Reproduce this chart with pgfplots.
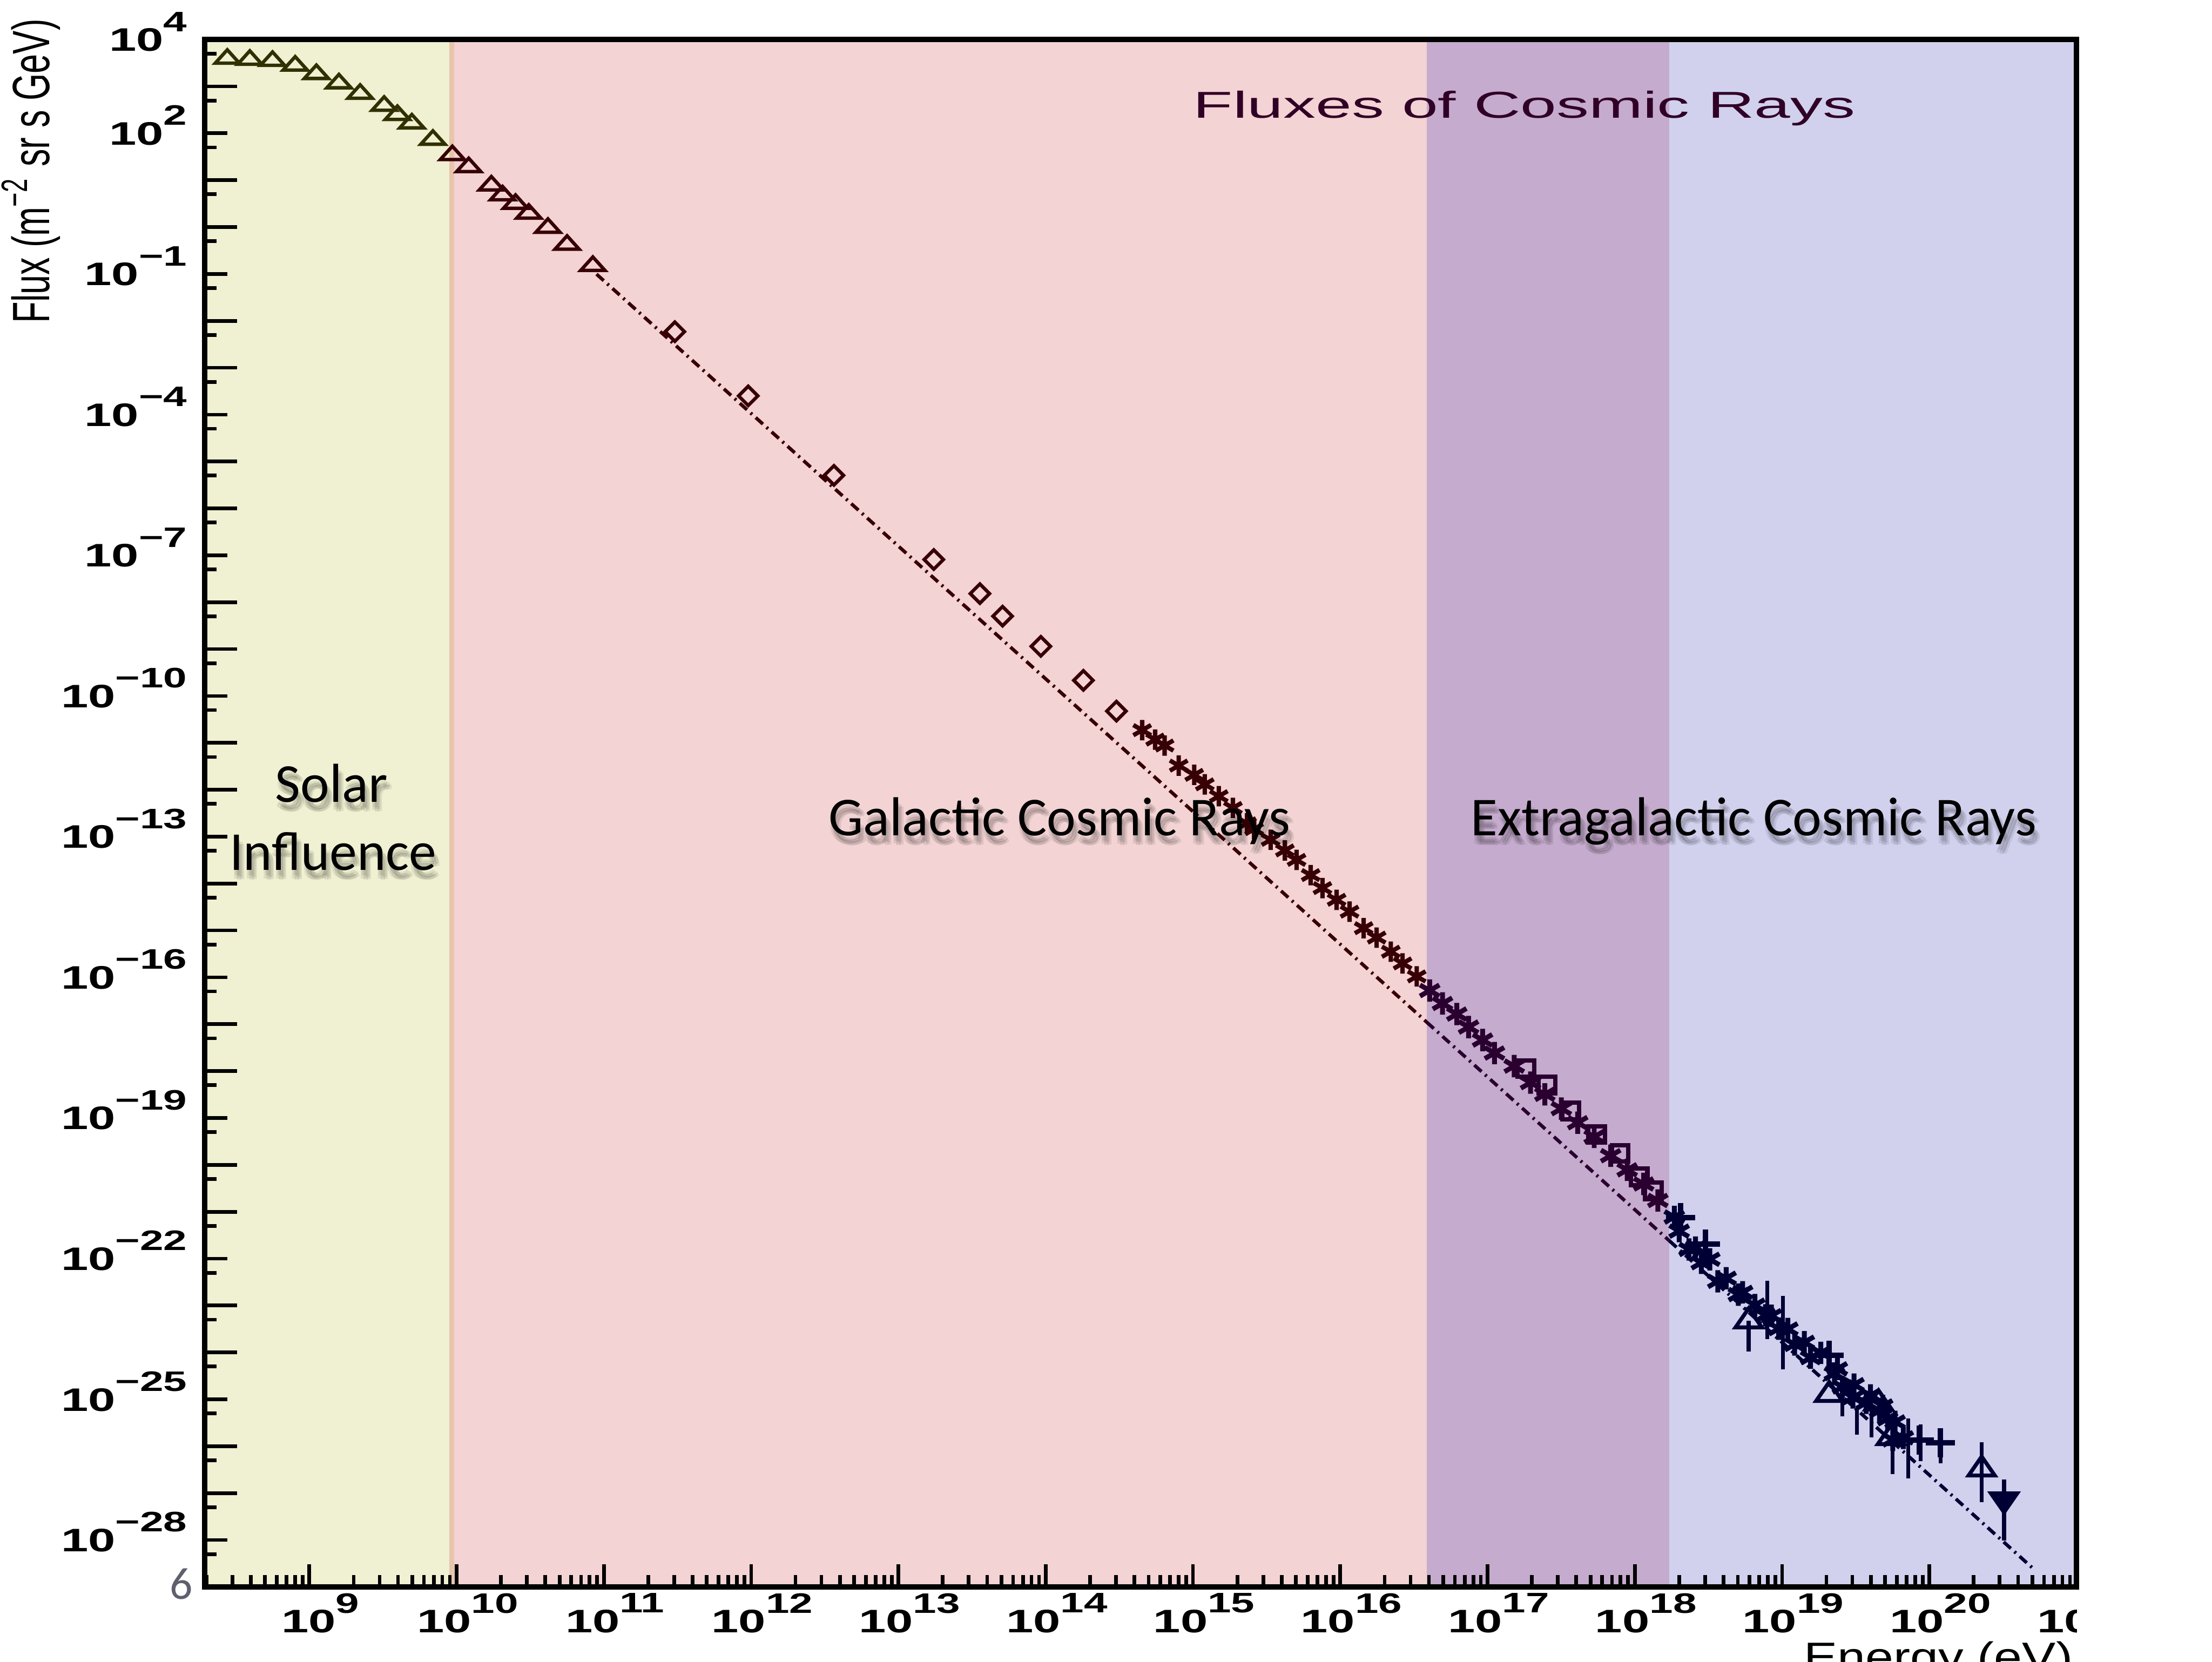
\documentclass[border=0pt]{standalone}
\usepackage{fontspec}
\setmainfont{Liberation Sans}
\newfontfamily\gill{Carlito}
\usepackage{graphicx}
\usepackage{pgfplots}
\usepackage{pgfplotstable}
\pgfplotsset{compat=1.18}

\definecolor{cyel}{RGB}{240,240,210}
\definecolor{cpink}{RGB}{243,211,211}
\definecolor{cpurp}{RGB}{197,171,205}
\definecolor{cblue}{RGB}{209,209,238}
\definecolor{cedge}{RGB}{232,197,172}
\definecolor{dolive}{RGB}{48,48,0}
\definecolor{dmaroon}{RGB}{55,0,5}
\definecolor{dpurp}{RGB}{42,0,48}
\definecolor{dnavy}{RGB}{0,0,52}
\definecolor{ctitle}{RGB}{48,0,38}
\definecolor{cslide}{RGB}{95,95,110}

\newcommand{\tl}[1]{\scalebox{1.5}[1]{\bfseries\fontsize{6.7}{7}\selectfont 10\raisebox{0.143cm}{\fontsize{5.8}{6}\selectfont #1}}}
\newcommand{\regfont}{\gill\fontsize{11.3}{13}\selectfont}

% all values: log10(E/eV), log10(flux)
\pgfplotstableread{
lx ly
8.443 3.590
8.596 3.568
8.750 3.544
8.904 3.444
9.048 3.264
9.201 3.065
9.345 2.843
9.508 2.587
9.598 2.391
9.696 2.210
9.839 1.862
}\triY
\pgfplotstableread{
lx ly
9.971 1.534
10.082 1.278
10.236 0.887
10.312 0.676
10.400 0.495
10.490 0.285
10.620 -0.016
10.750 -0.377
10.925 -0.828
}\triP
\pgfplotstableread{
lx ly
11.482 -2.231
11.980 -3.600
12.562 -5.295
13.240 -7.091
13.553 -7.817
13.707 -8.298
13.967 -8.942
14.256 -9.667
14.480 -10.323
}\diam
\pgfplotstableread{
lx ly
14.655 -10.729
14.743 -10.931
14.807 -11.057
14.903 -11.485
15.008 -11.683
15.080 -11.885
15.175 -12.138
15.271 -12.388
15.367 -12.716
15.415 -12.840
15.527 -13.068
15.624 -13.294
15.703 -13.496
15.799 -13.820
15.879 -14.097
15.975 -14.347
16.063 -14.600
16.159 -14.952
16.247 -15.153
16.343 -15.454
16.423 -15.704
16.519 -15.981
}\astP
\pgfplotstableread{
lx ly
16.607 -16.282
16.694 -16.558
16.791 -16.784
16.871 -17.061
16.966 -17.338
17.047 -17.615
17.181 -17.894
17.292 -18.246
17.389 -18.496
17.501 -18.800
17.612 -19.101
17.724 -19.402
17.836 -19.805
17.948 -20.106
18.060 -20.407
18.156 -20.759
}\astU
\pgfplotstableread{
lx ly
17.261 -17.946
17.404 -18.298
17.564 -18.849
17.740 -19.351
17.900 -19.754
18.029 -20.257
18.125 -20.557
}\sqU
\pgfplotstableread{
lx ly
18.268 -21.112
18.301 -21.413
18.368 -21.804
18.412 -21.765
18.451 -22.087
18.509 -22.014
18.563 -22.484
18.620 -22.418
18.703 -22.767
18.732 -22.719
18.815 -22.992
18.887 -23.209
18.927 -23.218
18.977 -23.492
19.039 -23.501
19.085 -23.829
19.151 -23.784
19.193 -24.112
19.263 -24.010
19.355 -24.452
19.375 -24.350
19.409 -24.735
19.488 -24.687
19.481 -24.960
19.571 -25.075
19.600 -24.916
19.661 -25.243
19.683 -25.141
19.716 -25.415
19.767 -25.481
19.823 -25.821
19.751 -25.866
}\astB
\pgfplotstableread{
lx ly
18.311 -21.126
18.479 -21.690
19.319 -24.060
19.931 -25.866
20.075 -25.923
}\crossB
\pgfplotstableread{
lx ly
18.773 -23.330
19.320 -24.900
19.655 -25.080
19.739 -25.820
20.355 -26.490
}\triB
\pgfplotstableread{
lx ly
20.507 -27.140
}\dtriB

\newcommand{\ebar}[3]{\addplot[dnavy, line width=0.8pt, forget plot] table[x expr={10^(\thisrow{lx})}, y expr={10^(\thisrow{ly})}, row sep=\\] {lx ly\\ #1 #2\\ #1 #3\\};}

\begin{document}
\begin{tikzpicture}
\begin{axis}[
  at={(0,0)}, anchor=south west,
  scale only axis, width=13.541cm, height=11.194cm,
  xmode=log, ymode=log,
  xmin=1.945e8, xmax=1e21, ymin=1e-29, ymax=1e4,
  set layers,
  axis line style={line width=1.1pt, black},
  xtick={1e9,1e10,1e11,1e12,1e13,1e14,1e15,1e16,1e17,1e18,1e19,1e20,1e21},
  xticklabels={\tl{9},\tl{10},\tl{11},\tl{12},\tl{13},\tl{14},\tl{15},\tl{16},\tl{17},\tl{18},\tl{19},\tl{20},{}},
  minor xtick={2e8,3e8,4e8,5e8,6e8,7e8,8e8,9e8,
    2e9,3e9,4e9,5e9,6e9,7e9,8e9,9e9,
    2e10,3e10,4e10,5e10,6e10,7e10,8e10,9e10,
    2e11,3e11,4e11,5e11,6e11,7e11,8e11,9e11,
    2e12,3e12,4e12,5e12,6e12,7e12,8e12,9e12,
    2e13,3e13,4e13,5e13,6e13,7e13,8e13,9e13,
    2e14,3e14,4e14,5e14,6e14,7e14,8e14,9e14,
    2e15,3e15,4e15,5e15,6e15,7e15,8e15,9e15,
    2e16,3e16,4e16,5e16,6e16,7e16,8e16,9e16,
    2e17,3e17,4e17,5e17,6e17,7e17,8e17,9e17,
    2e18,3e18,4e18,5e18,6e18,7e18,8e18,9e18,
    2e19,3e19,4e19,5e19,6e19,7e19,8e19,9e19,
    2e20,3e20,4e20,5e20,6e20,7e20,8e20,9e20},
  ytick={1e-28,1e-25,1e-22,1e-19,1e-16,1e-13,1e-10,1e-7,1e-4,1e-1,1e2,1e4},
  yticklabels={\tl{−28},\tl{−25},\tl{−22},\tl{−19},\tl{−16},\tl{−13},\tl{−10},\tl{−7},\tl{−4},\tl{−1},\tl{2},\tl{4}},
  minor ytick={5e-30,5e-29,5e-28,5e-27,5e-26,5e-25,5e-24,5e-23,5e-22,5e-21,5e-20,
    5e-19,5e-18,5e-17,5e-16,5e-15,5e-14,5e-13,5e-12,5e-11,5e-10,
    5e-9,5e-8,5e-7,5e-6,5e-5,5e-4,5e-3,5e-2,5e-1,5,50,500,5000},
  extra y ticks={1e-29,1e-27,1e-26,1e-24,1e-23,1e-21,1e-20,1e-18,1e-17,1e-15,1e-14,
    1e-12,1e-11,1e-9,1e-8,1e-6,1e-5,1e-3,1e-2,1,10,1e3},
  extra y tick labels={},
  extra y tick style={major tick length=0.235cm, ytick pos=left},
  xtick pos=left, ytick pos=left,
  tick align=inside,
  major tick length=0.165cm, minor tick length=0.085cm,
  tick style={line width=0.75pt, black},
  xticklabel style={anchor=north, inner sep=0pt, xshift=0.08cm, yshift=-0.04cm},
  yticklabel style={anchor=base east, inner sep=0pt, xshift=-0.12cm, yshift=-0.084cm},
]
% background bands (exactly the axis box)
\addplot[on layer=axis background, fill=cyel, draw=none] coordinates {(1.945e8,1e-29) (9.23e9,1e-29) (9.23e9,1e4) (1.945e8,1e4)} -- cycle;
\addplot[on layer=axis background, fill=cpink, draw=none] coordinates {(9.23e9,1e-29) (3.855e16,1e-29) (3.855e16,1e4) (9.23e9,1e4)} -- cycle;
\addplot[on layer=axis background, fill=cpurp, draw=none] coordinates {(3.855e16,1e-29) (1.714e18,1e-29) (1.714e18,1e4) (3.855e16,1e4)} -- cycle;
\addplot[on layer=axis background, fill=cblue, draw=none] coordinates {(1.714e18,1e-29) (1e21,1e-29) (1e21,1e4) (1.714e18,1e4)} -- cycle;
\addplot[on layer=axis background, draw=cedge, line width=1pt] coordinates {(9.23e9,1e-29) (9.23e9,1e4)};

% power-law reference line (dash-dot)
\addplot[dmaroon, line width=0.7pt, dash pattern=on 0.07cm off 0.035cm on 0.015cm off 0.035cm] table[x expr={10^(\thisrow{lx})}, y expr={10^(\thisrow{ly})}, row sep=\\] {lx ly\\ 10.95 -1.004\\ 16.586 -16.954\\};
\addplot[dpurp, line width=0.7pt, dash pattern=on 0.07cm off 0.035cm on 0.015cm off 0.035cm] table[x expr={10^(\thisrow{lx})}, y expr={10^(\thisrow{ly})}, row sep=\\] {lx ly\\ 16.586 -16.954\\ 18.234 -21.618\\};
\addplot[dnavy, line width=0.7pt, dash pattern=on 0.07cm off 0.035cm on 0.015cm off 0.035cm] table[x expr={10^(\thisrow{lx})}, y expr={10^(\thisrow{ly})}, row sep=\\] {lx ly\\ 18.234 -21.618\\ 20.72 -28.653\\};

% data
\addplot[only marks, mark=triangle, mark size=2.3pt, mark options={xscale=1.25, yscale=0.8, line width=0.7pt, draw=dolive}] table[x expr={10^(\thisrow{lx})}, y expr={10^(\thisrow{ly})}] {\triY};
\addplot[only marks, mark=triangle, mark size=2.3pt, mark options={xscale=1.25, yscale=0.8, line width=0.7pt, draw=dmaroon}] table[x expr={10^(\thisrow{lx})}, y expr={10^(\thisrow{ly})}] {\triP};
\addplot[only marks, mark=square, mark size=1.4pt, mark options={rotate=45, line width=0.7pt, draw=dmaroon}] table[x expr={10^(\thisrow{lx})}, y expr={10^(\thisrow{ly})}] {\diam};
\addplot[only marks, mark=asterisk, mark size=2.1pt, mark options={line width=0.9pt, draw=dmaroon}] table[x expr={10^(\thisrow{lx})}, y expr={10^(\thisrow{ly})}] {\astP};
\addplot[only marks, mark=asterisk, mark size=2.3pt, mark options={line width=1pt, draw=dpurp}] table[x expr={10^(\thisrow{lx})}, y expr={10^(\thisrow{ly})}] {\astU};
\addplot[only marks, mark=square, mark size=1.7pt, mark options={line width=0.9pt, draw=dpurp}] table[x expr={10^(\thisrow{lx})}, y expr={10^(\thisrow{ly})}] {\sqU};
\addplot[only marks, mark=asterisk, mark size=2.3pt, mark options={line width=1pt, draw=dnavy}] table[x expr={10^(\thisrow{lx})}, y expr={10^(\thisrow{ly})}] {\astB};
\addplot[only marks, mark=+, mark size=3pt, mark options={line width=1.1pt, draw=dnavy}] table[x expr={10^(\thisrow{lx})}, y expr={10^(\thisrow{ly})}] {\crossB};
\addplot[only marks, mark=triangle, mark size=2.6pt, mark options={xscale=1.2, line width=0.8pt, draw=dnavy}] table[x expr={10^(\thisrow{lx})}, y expr={10^(\thisrow{ly})}] {\triB};
\addplot[only marks, mark=triangle*, mark size=2.6pt, mark options={rotate=180, xscale=1.2, line width=0.8pt, draw=dnavy, fill=dnavy}] table[x expr={10^(\thisrow{lx})}, y expr={10^(\thisrow{ly})}] {\dtriB};

% error bars
\ebar{18.773}{-23.33}{-23.98}
\ebar{18.900}{-22.47}{-23.72}
\ebar{19.005}{-22.80}{-24.36}
\ebar{19.409}{-24.85}{-25.36}
\ebar{19.508}{-25.19}{-25.75}
\ebar{19.607}{-25.19}{-25.81}
\ebar{19.751}{-25.75}{-26.60}
\ebar{19.855}{-25.41}{-26.69}
\ebar{19.940}{-25.53}{-26.32}
\ebar{20.075}{-25.69}{-26.37}
\ebar{20.355}{-25.92}{-27.19}
\ebar{20.507}{-26.71}{-28.01}
\end{axis}

% cut-off last x tick label
\begin{scope}
\clip (0,-1) rectangle (13.541,0);
\node[anchor=north, inner sep=0pt] at (13.621,-0.04) {\tl{21}};
\end{scope}

% title
\node[anchor=base, inner sep=0pt, text=ctitle] at (9.546,10.628) {\scalebox{1.73}[1]{\fontsize{7.7}{9}\selectfont Fluxes of Cosmic Rays}};

% region labels with soft shadow
\foreach \px/\py/\txt in {0.918/5.677/Solar, 0.929/5.184/Influence, 6.184/5.435/Galactic Cosmic Rays, 11.204/5.435/Extragalactic Cosmic Rays}{
  \foreach \dx/\dy in {0.01/-0.04, 0.03/-0.05, 0.02/-0.07, 0.0/-0.06, 0.04/-0.065}{
    \node[anchor=base, inner sep=0pt, text=black, opacity=0.08] at (\px+\dx,\py+\dy) {\regfont \txt};
  }
  \node[anchor=base, inner sep=0pt, text=black] at (\px,\py) {\regfont \txt};
}

% axis titles
\node[rotate=90, anchor=base west, inner sep=0pt] at (-1.122,9.133) {\scalebox{1}[1.5]{\fontsize{7.2}{8}\selectfont Flux (m\textsuperscript{−2} sr s GeV)}};
\node[anchor=north east, inner sep=0pt] at (13.52,-0.388) {\scalebox{1.22}[1]{\fontsize{8.5}{10}\selectfont Energy (eV)}};

% slide number
\node[text=cslide, inner sep=0pt] at (-0.168,0.02) {\gill\fontsize{9.3}{10}\selectfont 6};

\pgfresetboundingbox
\path (-1.480,-0.541) rectangle (14.520,11.480);
\end{tikzpicture}
\end{document}
